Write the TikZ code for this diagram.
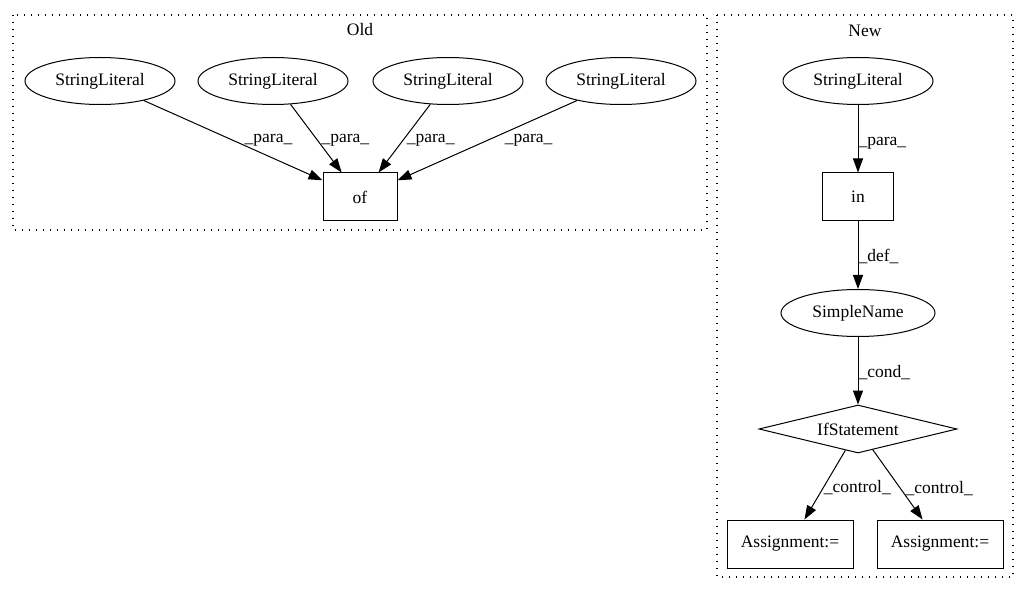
\documentclass[tikz,border=0pt]{standalone}
\usepackage{fontspec}
\setmainfont{Liberation Serif}
\usepackage{tikz}
\usetikzlibrary{shapes,arrows.meta,positioning,calc}

\tikzset{
  lit/.style={draw,ellipse,line width=1pt,minimum width=150pt,minimum height=47pt,inner sep=0pt},
  box/.style={draw,rectangle,line width=1pt,minimum height=48pt,inner sep=0pt},
  cond/.style={draw,diamond,aspect=4.1,line width=1pt,minimum width=198pt,minimum height=48pt,inner sep=0pt},
  lbl/.style={anchor=west,inner sep=0pt},
  clus/.style={line width=1.3pt,dash pattern=on 1.4pt off 5.6pt},
  edge/.style={-{Triangle[length=14pt,width=10pt]},line width=1pt}
}

\begin{document}
\begin{tikzpicture}[x=1pt,y=-1pt,font=\fontsize{17.5}{21}\selectfont]
      \useasboundingbox (0,0) rectangle (1029,596);

      % clusters
      \draw[clus] (13,15) rectangle (707,230);
      \node (old) at (360,30) {Old};
      \draw[clus] (717,15) rectangle (1013,577);
      \node (new) at (865,31) {New};

      % old
      \node[lit] (s1) at (100,81) {StringLiteral};
      \node[lit] (s2) at (273,81) {StringLiteral};
      \node[lit] (s3) at (448,81) {StringLiteral};
      \node[lit] (s4) at (621,81) {StringLiteral};
      \node[box,minimum width=74pt] (of) at (360,197) {of};

      \draw[edge] (s1) --node[lbl,pos=0.5,xshift=11pt] {\_para\_} (of);
      \draw[edge] (s2) --node[lbl,pos=0.52,xshift=4pt] {\_para\_} (of);
      \draw[edge] (s3) --node[lbl,pos=0.52,xshift=3pt] {\_para\_} (of);
      \draw[edge] (s4) --node[lbl,pos=0.5,xshift=17pt] {\_para\_} (of);

      % new
      \node[lit] (s5) at (858,81) {StringLiteral};
      \node[box,minimum width=71pt] (in) at (858,197) {in};
      \node[lit,minimum width=154pt] (sn) at (858,313) {SimpleName};
      \node[cond] (if) at (858,429) {IfStatement};
      \node[box,minimum width=126pt] (as1) at (790,544) {Assignment:=};
      \node[box,minimum width=126pt] (as2) at (940,544) {Assignment:=};

      \draw[edge] (s5) --node[lbl,pos=0.57] {\_para\_} (in);
      \draw[edge] (in) --node[lbl,pos=0.52] {\_def\_} (sn);
      \draw[edge] (sn) --node[lbl,pos=0.52] {\_cond\_} (if);
      \draw[edge] (if) --node[lbl,pos=0.54] {\_control\_} (as1);
      \draw[edge] (if) --node[lbl,pos=0.55,xshift=5pt] {\_control\_} (as2);
\end{tikzpicture}
\end{document}
